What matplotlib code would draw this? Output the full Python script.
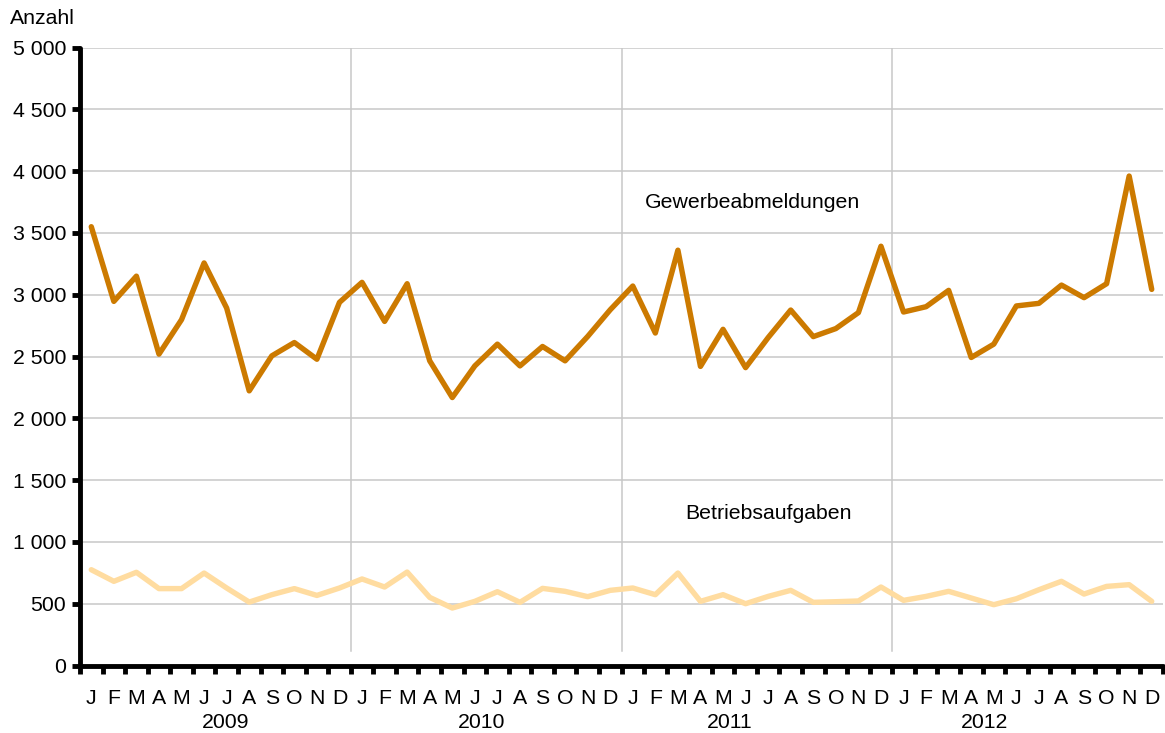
import matplotlib
matplotlib.use("Agg")
import matplotlib.pyplot as plt
import numpy as np

plt.rcParams['font.family'] = ['Liberation Sans', 'DejaVu Sans']

months = ["J", "F", "M", "A", "M", "J", "J", "A", "S", "O", "N", "D"]
years = ["2009", "2010", "2011", "2012"]

gewerbeabmeldungen = [
    3550, 2946, 3150, 2519, 2798, 3257, 2892, 2222, 2505, 2613, 2478, 2938,
    3100, 2784, 3089, 2465, 2168, 2424, 2600, 2424, 2581, 2465, 2662, 2878,
    3070, 2690, 3360, 2420, 2720, 2410, 2653, 2876, 2661, 2726, 2855, 3392,
    2860, 2903, 3035, 2492, 2600, 2909, 2930, 3078, 2976, 3089, 3960, 3043,
]
betriebsaufgaben = [
    775, 681, 754, 622, 622, 748, 627, 513, 573, 622, 567, 627,
    700, 635, 756, 551, 465, 519, 597, 511, 624, 600, 557, 608,
    627, 573, 748, 519, 573, 500, 559, 608, 511, 516, 522, 635,
    527, 559, 600, 546, 492, 540, 613, 681, 578, 640, 654, 519,
]
yticks = [0, 500, 1000, 1500, 2000, 2500, 3000, 3500, 4000, 4500, 5000]

W, H = 1165, 733
FS = 15.3
fig = plt.figure(figsize=(W / 100, H / 100), dpi=100)
ax = fig.add_axes([80 / W, (H - 665.5) / H, (1163 - 80) / W, (665.5 - 47.5) / H])

n = len(gewerbeabmeldungen)
x = np.arange(n) + 0.5

# grid
for v in yticks[1:]:
    ax.axhline(v, color="#c8c8c8", lw=1.1, zorder=0)
for k in range(1, len(years)):
    ax.plot([12 * k, 12 * k], [120, 5000], color="#c8c8c8", lw=1.1, zorder=0)

ax.plot(x, betriebsaufgaben, color="#ffdca0", lw=3.9, solid_joinstyle="round",
        solid_capstyle="round", zorder=3)
ax.plot(x, gewerbeabmeldungen, color="#cc7a00", lw=3.9, solid_joinstyle="round",
        solid_capstyle="round", zorder=4)

ax.set_xlim(0, n)
ax.set_ylim(0, 5000)

for s in ["top", "right"]:
    ax.spines[s].set_visible(False)
for s in ["left", "bottom"]:
    ax.spines[s].set_linewidth(3.5)
    ax.spines[s].set_capstyle("round")

ax.set_yticks(yticks)
ax.set_yticklabels([f"{v:,}".replace(",", " ") for v in yticks], fontsize=FS)
ax.set_xticks(np.arange(n + 1))
ax.set_xticklabels([])
ax.tick_params(axis="both", length=6, width=3.5, color="black", direction="out")
ax.tick_params(axis="y", pad=4)
for t in ax.xaxis.get_ticklines() + ax.yaxis.get_ticklines():
    t.set_solid_capstyle("round")

# month labels
trans = ax.get_xaxis_transform()
for i in range(n):
    ax.text(i + 0.5, -0.053, months[i % 12], transform=trans, ha="center", va="center", fontsize=FS)
year_pos = [6.45, 17.8, 28.8, 40.1]
for yr, p in zip(years, year_pos):
    ax.text(p, -0.0925, yr, transform=trans, ha="center", va="center", fontsize=FS)

ax.text(29.8, 3742, "Gewerbeabmeldungen", ha="center", va="center", fontsize=FS)
ax.text(30.5, 1226, "Betriebsaufgaben", ha="center", va="center", fontsize=FS)

fig.text(10 / W, 1 - 18 / H, "Anzahl", ha="left", va="center", fontsize=FS)

fig.savefig("out.png", dpi=100)
